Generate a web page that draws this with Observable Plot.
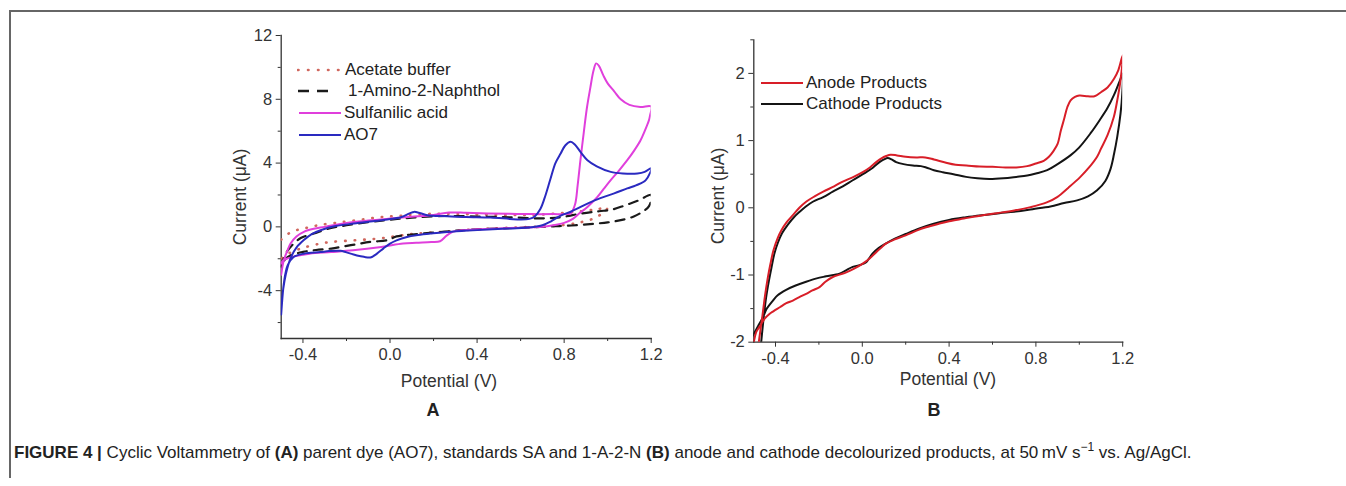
<!DOCTYPE html>
<html><head><meta charset="utf-8">
<script src="https://cdn.jsdelivr.net/npm/d3@7"></script>
<script src="https://cdn.jsdelivr.net/npm/@observablehq/plot@0.6"></script>
<style>
body{margin:0;background:#fff;font-family:"Liberation Sans",Arial,Helvetica,sans-serif;color:#222;}
#fig{position:relative;width:1346px;height:486px;overflow:hidden;background:#fff;}
.abs{position:absolute;white-space:nowrap;}
.c{transform:translate(-50%,-50%);}
.lab{font-size:17.5px;color:#333;}
.leg{font-size:17px;color:#222;display:flex;align-items:center;height:22px;}
.frame{position:absolute;left:9px;top:10px;width:1340px;height:466px;border-top:2px solid #666;border-left:2px solid #666;}
.cap{font-size:17px;color:#222;}
</style></head><body><div id="fig"></div><script>
// ---------- ticks & series names ----------
const xTicksMajor = [-0.4, 0.0, 0.4, 0.8, 1.2];
const xTicksMinor = [-0.2, 0.2, 0.6, 1.0];
const yTicksMajorA = [-4, 0, 4, 8, 12];
const yTicksMinorA = [-6, -2, 2, 6, 10];
const yTicksMajorB = [-2, -1, 0, 1, 2];
const yTicksMinorB = [-1.5, -0.5, 0.5, 1.5, 2.5];

const seriesA = ["Acetate buffer", "1-Amino-2-Naphthol", "Sulfanilic acid", "AO7"];
const seriesB = ["Anode Products", "Cathode Products"];

// ---------- Panel A data ----------
const acetateX = [-0.5, -0.47, -0.44, -0.39, -0.33, -0.25, -0.15, -0.05, 0.05, 0.2, 0.35, 0.5, 0.65, 0.78, 0.88, 0.95, 1.0, 0.98, 0.94, 0.88, 0.8, 0.7, 0.55, 0.4, 0.25, 0.1, 0.02, -0.05, -0.15, -0.3, -0.41, -0.47, -0.5];
const acetateY = [-0.8, -0.45, -0.25, -0.08, 0.1, 0.25, 0.42, 0.6, 0.7, 0.82, 0.8, 0.75, 0.75, 0.85, 0.98, 1.1, 1.2, 0.9, 0.55, 0.3, 0.12, 0.02, -0.05, -0.15, -0.3, -0.45, -0.6, -0.73, -0.83, -1.0, -1.36, -1.7, -2.0];

const aminoX = [-0.5, -0.48, -0.45, -0.41, -0.35, -0.28, -0.2, -0.1, 0.0, 0.1, 0.25, 0.4, 0.55, 0.68, 0.78, 0.88, 0.96, 1.02, 1.08, 1.14, 1.2, 1.19, 1.16, 1.12, 1.06, 1.0, 0.94, 0.86, 0.78, 0.69, 0.55, 0.4, 0.25, 0.1, 0.03, -0.01, -0.09, -0.18, -0.27, -0.34, -0.4, -0.45, -0.48, -0.5];
const aminoY = [-2.5, -1.7, -1.15, -0.7, -0.42, -0.1, 0.1, 0.3, 0.45, 0.58, 0.68, 0.65, 0.6, 0.53, 0.6, 0.84, 0.98, 1.08, 1.35, 1.65, 2.0, 1.3, 0.95, 0.65, 0.42, 0.28, 0.2, 0.11, 0.05, 0.0, -0.08, -0.15, -0.3, -0.48, -0.6, -0.83, -0.94, -1.15, -1.36, -1.45, -1.57, -1.75, -2.0, -2.5];

const sulfX = [-0.5, -0.488, -0.472, -0.457, -0.43, -0.396, -0.35, -0.3, -0.2, -0.1, 0.0, 0.1, 0.2, 0.27, 0.35, 0.45, 0.55, 0.65, 0.75, 0.8, 0.83, 0.85, 0.862, 0.875, 0.89, 0.905, 0.92, 0.935, 0.947, 0.96, 0.98, 1.0, 1.03, 1.06, 1.1, 1.15, 1.2,
  1.195, 1.19, 1.17, 1.15, 1.12, 1.09, 1.05, 1.014, 0.98, 0.953, 0.907, 0.87, 0.84, 0.8, 0.75, 0.7, 0.6, 0.5, 0.4, 0.33, 0.29, 0.26, 0.23, 0.19, 0.12, 0.06, -0.04, -0.17, -0.27, -0.37, -0.44, -0.475, -0.49, -0.5];
const sulfY = [-3.0, -2.1, -1.5, -1.04, -0.6, -0.31, -0.12, 0.0, 0.25, 0.4, 0.52, 0.63, 0.75, 0.9, 0.88, 0.84, 0.82, 0.8, 0.8, 0.8, 0.85, 1.4, 2.6, 4.2, 5.9, 7.5, 8.7, 9.8, 10.25, 10.1, 9.5, 9.0, 8.5, 8.0, 7.65, 7.52, 7.55,
  7.0, 6.7, 6.0, 5.4, 4.75, 4.18, 3.5, 2.93, 2.35, 1.88, 1.25, 0.85, 0.5, 0.25, 0.1, 0.0, -0.05, -0.1, -0.15, -0.21, -0.3, -0.55, -0.9, -0.95, -1.0, -1.05, -1.26, -1.47, -1.58, -1.68, -1.85, -2.0, -2.1, -2.3];

const ao7X = [-0.5, -0.495, -0.485, -0.472, -0.455, -0.43, -0.396, -0.36, -0.319, -0.25, -0.166, -0.08, -0.013, 0.05, 0.09, 0.11, 0.14, 0.171, 0.263, 0.35, 0.462, 0.55, 0.6, 0.64, 0.665, 0.69, 0.71, 0.737, 0.76, 0.784, 0.805, 0.83, 0.85, 0.875, 0.907, 0.95, 1.014, 1.07, 1.137, 1.17, 1.2,
  1.175, 1.13, 1.09, 1.03, 0.983, 0.93, 0.876, 0.83, 0.784, 0.74, 0.7, 0.65, 0.55, 0.45, 0.339, 0.25, 0.185, 0.12, 0.078, 0.03, 0.0, -0.03, -0.06, -0.09, -0.12, -0.152, -0.2, -0.228, -0.28, -0.32, -0.397, -0.443, -0.47, -0.481, -0.49, -0.5];
const ao7Y = [-5.5, -4.4, -3.4, -2.6, -1.9, -1.3, -0.83, -0.45, -0.21, 0.05, 0.21, 0.35, 0.46, 0.6, 0.85, 0.94, 0.85, 0.73, 0.67, 0.62, 0.59, 0.5, 0.46, 0.5, 0.65, 1.1, 1.8, 3.0, 4.0, 4.6, 5.1, 5.33, 5.15, 4.7, 4.18, 3.8, 3.45, 3.35, 3.35, 3.45, 3.68,
  2.93, 2.6, 2.41, 2.1, 1.88, 1.6, 1.25, 0.95, 0.7, 0.35, 0.1, -0.02, -0.1, -0.17, -0.25, -0.33, -0.42, -0.52, -0.63, -0.85, -1.05, -1.35, -1.68, -1.92, -1.88, -1.79, -1.6, -1.5, -1.52, -1.58, -1.68, -1.89, -2.4, -2.95, -3.8, -5.47];

// ---------- Panel B data ----------
const anodeX = [-0.49, -0.475, -0.46, -0.448, -0.436, -0.423, -0.41, -0.39, -0.374, -0.35, -0.32, -0.29, -0.259, -0.22, -0.18, -0.13, -0.09, -0.04, 0.002, 0.035, 0.064, 0.09, 0.11, 0.13, 0.16, 0.2, 0.25, 0.29, 0.33, 0.386, 0.43, 0.48, 0.54, 0.6, 0.66, 0.71, 0.76, 0.8, 0.836, 0.86, 0.88, 0.9, 0.915, 0.93, 0.945, 0.96, 0.98, 1.0, 1.04, 1.07, 1.1, 1.13, 1.16, 1.18, 1.2,
  1.19, 1.175, 1.159, 1.13, 1.1, 1.082, 1.045, 1.005, 0.95, 0.898, 0.85, 0.775, 0.7, 0.62, 0.555, 0.468, 0.4, 0.35, 0.294, 0.25, 0.2, 0.15, 0.11, 0.085, 0.064, 0.035, 0.002, -0.04, -0.074, -0.1, -0.136, -0.17, -0.197, -0.23, -0.259, -0.29, -0.32, -0.35, -0.38, -0.41, -0.428, -0.45, -0.466, -0.48, -0.489, -0.5];
const anodeY = [-2.3, -1.95, -1.6, -1.3, -1.05, -0.83, -0.64, -0.45, -0.34, -0.22, -0.11, 0.0, 0.09, 0.17, 0.24, 0.32, 0.39, 0.46, 0.53, 0.6, 0.68, 0.74, 0.77, 0.79, 0.78, 0.76, 0.75, 0.75, 0.72, 0.67, 0.64, 0.63, 0.615, 0.61, 0.6, 0.6, 0.62, 0.66, 0.7, 0.76, 0.84, 0.95, 1.15, 1.32, 1.5, 1.6, 1.65, 1.67, 1.66, 1.66, 1.72, 1.79, 1.92, 2.05, 2.27,
  1.9, 1.6, 1.35, 1.08, 0.88, 0.76, 0.6, 0.46, 0.3, 0.16, 0.08, 0.01, -0.04, -0.08, -0.11, -0.16, -0.2, -0.24, -0.29, -0.34, -0.41, -0.47, -0.53, -0.6, -0.66, -0.75, -0.83, -0.91, -0.96, -0.99, -1.03, -1.1, -1.18, -1.23, -1.28, -1.33, -1.38, -1.42, -1.48, -1.54, -1.58, -1.65, -1.73, -1.8, -1.85, -2.0];

const cathodeX = [-0.475, -0.466, -0.455, -0.443, -0.43, -0.418, -0.405, -0.389, -0.37, -0.343, -0.315, -0.289, -0.26, -0.228, -0.18, -0.136, -0.09, -0.044, 0.018, 0.05, 0.079, 0.1, 0.117, 0.135, 0.156, 0.19, 0.233, 0.27, 0.294, 0.33, 0.371, 0.42, 0.478, 0.53, 0.586, 0.65, 0.709, 0.76, 0.8, 0.852, 0.9, 0.959, 1.0, 1.052, 1.093, 1.129, 1.16, 1.19, 1.2,
  1.198, 1.19, 1.175, 1.16, 1.144, 1.12, 1.082, 1.04, 0.99, 0.93, 0.867, 0.785, 0.7, 0.632, 0.55, 0.478, 0.4, 0.325, 0.26, 0.2, 0.15, 0.11, 0.075, 0.048, 0.03, 0.018, -0.01, -0.044, -0.075, -0.105, -0.167, -0.21, -0.259, -0.31, -0.351, -0.39, -0.412, -0.44, -0.458, -0.48, -0.504];
const cathodeY = [-2.3, -2.0, -1.65, -1.33, -1.08, -0.88, -0.68, -0.52, -0.38, -0.25, -0.14, -0.06, 0.02, 0.09, 0.16, 0.24, 0.32, 0.41, 0.53, 0.6, 0.68, 0.72, 0.74, 0.72, 0.68, 0.65, 0.63, 0.62, 0.6, 0.56, 0.53, 0.5, 0.46, 0.44, 0.43, 0.44, 0.46, 0.48, 0.51, 0.56, 0.65, 0.78, 0.9, 1.11, 1.3, 1.48, 1.68, 1.92, 2.0,
  1.7, 1.4, 1.06, 0.8, 0.58, 0.4, 0.26, 0.17, 0.11, 0.07, 0.02, -0.02, -0.06, -0.08, -0.11, -0.14, -0.18, -0.24, -0.31, -0.39, -0.46, -0.53, -0.6, -0.68, -0.76, -0.81, -0.85, -0.88, -0.93, -0.98, -1.02, -1.05, -1.1, -1.16, -1.22, -1.3, -1.38, -1.5, -1.63, -1.76, -1.9];

// ---------- styles ----------
const colorsA = {"Acetate buffer": "#d0675e", "1-Amino-2-Naphthol": "#1a1a1a", "Sulfanilic acid": "#e03fdc", "AO7": "#2a2ac0"};
const colorsB = {"Anode Products": "#d81e28", "Cathode Products": "#141414"};
const FONT = '"Liberation Sans", Arial, Helvetica, sans-serif';

const toRows = (xs, ys) => xs.map((x, i) => ({x, y: ys[i]}));

function axes(yMajor, yMinor) {
  return [
    Plot.axisX(xTicksMajor, {tickSize: 5, tickPadding: 5, tickFormat: d => d.toFixed(1), label: null}),
    Plot.axisX(xTicksMinor, {tickSize: 3, tickFormat: () => "", label: null}),
    Plot.axisY(yMajor, {tickSize: 5, tickPadding: 4, tickFormat: d => String(d), label: null}),
    Plot.axisY(yMinor, {tickSize: 3, tickFormat: () => "", label: null}),
    Plot.frame({anchor: "left", stroke: "#333", strokeWidth: 1.3}),
    Plot.frame({anchor: "bottom", stroke: "#333", strokeWidth: 1.3})
  ];
}

const lineOpts = {x: "x", y: "y", curve: "catmull-rom", clip: true, strokeWidth: 2};

const plotA = Plot.plot({
  width: 470, height: 380,
  marginLeft: 80.7, marginRight: 19.3, marginTop: 15, marginBottom: 62,
  x: {domain: [-0.5, 1.2]},
  y: {domain: [-7, 12]},
  style: {fontFamily: FONT, fontSize: "16.5px", color: "#333", background: "transparent", overflow: "visible"},
  marks: [
    ...axes(yTicksMajorA, yTicksMinorA),
    Plot.line(toRows(acetateX, acetateY), {...lineOpts, stroke: colorsA["Acetate buffer"], strokeWidth: 2.6, strokeDasharray: "0.5 9", strokeLinecap: "round"}),
    Plot.line(toRows(aminoX, aminoY), {...lineOpts, stroke: colorsA["1-Amino-2-Naphthol"], strokeWidth: 2.2, strokeDasharray: "9 7"}),
    Plot.line(toRows(sulfX, sulfY), {...lineOpts, stroke: colorsA["Sulfanilic acid"]}),
    Plot.line(toRows(ao7X, ao7Y), {...lineOpts, stroke: colorsA["AO7"]})
  ]
});

const plotB = Plot.plot({
  width: 470, height: 380,
  marginLeft: 73.3, marginRight: 27.8, marginTop: 19.3, marginBottom: 58.3,
  x: {domain: [-0.5, 1.2]},
  y: {domain: [-2, 2.5]},
  style: {fontFamily: FONT, fontSize: "16.5px", color: "#333", background: "transparent", overflow: "visible"},
  marks: [
    ...axes(yTicksMajorB, yTicksMinorB),
    Plot.line(toRows(cathodeX, cathodeY), {...lineOpts, stroke: colorsB["Cathode Products"]}),
    Plot.line(toRows(anodeX, anodeY), {...lineOpts, stroke: colorsB["Anode Products"]})
  ]
});

const fig = document.getElementById("fig");
function place(el, left, top) { el.style.position = "absolute"; el.style.left = left + "px"; el.style.top = top + "px"; fig.appendChild(el); }
function text(str, x, y, cls, extra) {
  const d = document.createElement("div");
  d.className = "abs c " + cls;
  d.textContent = str;
  d.style.left = x + "px"; d.style.top = y + "px";
  if (extra) Object.assign(d.style, extra);
  fig.appendChild(d);
  return d;
}

const frame = document.createElement("div"); frame.className = "frame"; fig.appendChild(frame);
place(plotA, 200, 20);
place(plotB, 680, 20);

// axis titles
text("Current (\u03bcA)", 240, 197, "lab", {transform: "translate(-50%,-50%) rotate(-90deg)"});
text("Potential (V)", 449, 381, "lab");
text("Current (\u03bcA)", 718, 196, "lab", {transform: "translate(-50%,-50%) rotate(-90deg)"});
text("Potential (V)", 948, 379, "lab");
// panel letters
text("A", 433, 410, "lab", {fontWeight: "bold", fontSize: "18px", color: "#222"});
text("B", 934, 410, "lab", {fontWeight: "bold", fontSize: "18px", color: "#222"});

// legends
function legendItem(label, color, dash, width, x0, swatchW, textX, yc) {
  const ns = "http://www.w3.org/2000/svg";
  const svg = document.createElementNS(ns, "svg");
  svg.setAttribute("width", swatchW); svg.setAttribute("height", 8);
  const ln = document.createElementNS(ns, "line");
  ln.setAttribute("x1", 1); ln.setAttribute("x2", swatchW - 1); ln.setAttribute("y1", 4); ln.setAttribute("y2", 4);
  ln.setAttribute("stroke", color); ln.setAttribute("stroke-width", width);
  if (dash) { ln.setAttribute("stroke-dasharray", dash); ln.setAttribute("stroke-linecap", dash.startsWith("0.5") ? "round" : "butt"); }
  svg.appendChild(ln);
  svg.style.position = "absolute"; svg.style.left = x0 + "px"; svg.style.top = (yc - 4) + "px";
  fig.appendChild(svg);
  const t = document.createElement("div");
  t.className = "abs leg"; t.textContent = label;
  t.style.left = textX + "px"; t.style.top = (yc - 11) + "px";
  fig.appendChild(t);
}
legendItem(seriesA[0], colorsA[seriesA[0]], "0.5 9.5", 2.6, 297, 44, 345, 70);
legendItem(seriesA[1], colorsA[seriesA[1]], "11 8", 2.4, 297, 36, 348, 91);
legendItem(seriesA[2], colorsA[seriesA[2]], null, 2, 298, 44, 344, 113);
legendItem(seriesA[3], colorsA[seriesA[3]], null, 2, 298, 44, 344, 135);
legendItem(seriesB[0], colorsB[seriesB[0]], null, 2, 760, 44, 806, 83);
legendItem(seriesB[1], colorsB[seriesB[1]], null, 2, 760, 44, 806, 104);

// caption
const cap = document.createElement("div");
cap.className = "abs cap";
cap.style.left = "14px"; cap.style.top = "440px";
cap.innerHTML = '<b>FIGURE 4 |</b> Cyclic Voltammetry of <b>(A)</b> parent dye (AO7), standards SA and 1-A-2-N <b>(B)</b> anode and cathode decolourized products, at 50\u2009mV s<sup style="font-size:12px">\u22121</sup> vs. Ag/AgCl.';
fig.appendChild(cap);
</script></body></html>
